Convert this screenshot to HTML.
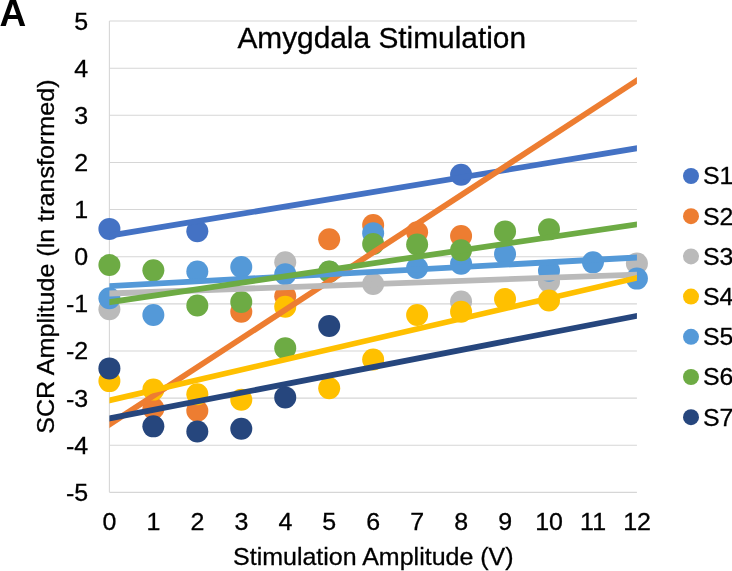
<!DOCTYPE html>
<html lang="en">
<head>
<meta charset="utf-8">
<title>Amygdala Stimulation</title>
<style>
html,body{margin:0;padding:0;background:#fff;}
body{width:732px;height:571px;overflow:hidden;}
svg{display:block;will-change:transform;}
svg text{font-family:"Liberation Sans",Arial,Helvetica,sans-serif;fill:#000;stroke:#000;stroke-width:0.3px;}
svg text.pl{stroke:none;}
</style>
</head>
<body>
<svg width="732" height="571" viewBox="0 0 732 571">
<rect width="732" height="571" fill="#ffffff"/>
<g stroke="#d6d6d6" stroke-width="1.1" fill="none">
<line x1="109.4" y1="492.35" x2="636.92" y2="492.35"/>
<line x1="109.4" y1="445.22" x2="636.92" y2="445.22"/>
<line x1="109.4" y1="398.09" x2="636.92" y2="398.09"/>
<line x1="109.4" y1="350.96" x2="636.92" y2="350.96"/>
<line x1="109.4" y1="303.83" x2="636.92" y2="303.83"/>
<line x1="109.4" y1="256.7" x2="636.92" y2="256.7"/>
<line x1="109.4" y1="209.57" x2="636.92" y2="209.57"/>
<line x1="109.4" y1="162.44" x2="636.92" y2="162.44"/>
<line x1="109.4" y1="115.31" x2="636.92" y2="115.31"/>
<line x1="109.4" y1="68.18" x2="636.92" y2="68.18"/>
<line x1="109.4" y1="21.05" x2="636.92" y2="21.05"/>
<line x1="109.4" y1="21.05" x2="109.4" y2="492.35"/>
</g>
<text x="-0.4" y="25.9" font-size="37" font-weight="bold" class="pl">A</text>
<text x="381.7" y="48.1" font-size="29.85" text-anchor="middle">Amygdala Stimulation</text>
<g font-size="24.5" text-anchor="end">
<text transform="translate(88.1 29.55) scale(1.02 1)">5</text>
<text transform="translate(88.1 76.68) scale(1.02 1)">4</text>
<text transform="translate(88.1 123.81) scale(1.02 1)">3</text>
<text transform="translate(88.1 170.94) scale(1.02 1)">2</text>
<text transform="translate(88.1 218.07) scale(1.02 1)">1</text>
<text transform="translate(88.1 265.2) scale(1.02 1)">0</text>
<text transform="translate(88.1 312.33) scale(1.02 1)">-1</text>
<text transform="translate(88.1 359.46) scale(1.02 1)">-2</text>
<text transform="translate(88.1 406.59) scale(1.02 1)">-3</text>
<text transform="translate(88.1 453.72) scale(1.02 1)">-4</text>
<text transform="translate(88.1 500.85) scale(1.02 1)">-5</text>
</g>
<g font-size="24.5" text-anchor="middle">
<text transform="translate(109.5 530.1) scale(1.02 1)">0</text>
<text transform="translate(153.46 530.1) scale(1.02 1)">1</text>
<text transform="translate(197.42 530.1) scale(1.02 1)">2</text>
<text transform="translate(241.38 530.1) scale(1.02 1)">3</text>
<text transform="translate(285.34 530.1) scale(1.02 1)">4</text>
<text transform="translate(329.3 530.1) scale(1.02 1)">5</text>
<text transform="translate(373.26 530.1) scale(1.02 1)">6</text>
<text transform="translate(417.22 530.1) scale(1.02 1)">7</text>
<text transform="translate(461.18 530.1) scale(1.02 1)">8</text>
<text transform="translate(505.14 530.1) scale(1.02 1)">9</text>
<text transform="translate(549.1 530.1) scale(1.02 1)">10</text>
<text transform="translate(593.06 530.1) scale(1.02 1)">11</text>
<text transform="translate(637.02 530.1) scale(1.02 1)">12</text>
</g>
<text transform="translate(373.3 565.1) scale(1.033 1)" font-size="24.2" text-anchor="middle">Stimulation Amplitude (V)</text>
<text transform="translate(53.8 256.65) rotate(-90) scale(1.0463 1)" font-size="24" text-anchor="middle">SCR Amplitude (ln transformed)</text>
<g fill="#4472C4">
<circle cx="109.4" cy="228.89" r="11.0"/>
<circle cx="197.32" cy="231.25" r="11.0"/>
<circle cx="461.08" cy="174.69" r="11.0"/>
</g>
<g fill="#ED7D31">
<circle cx="153.36" cy="408.46" r="11.0"/>
<circle cx="197.32" cy="410.82" r="11.0"/>
<circle cx="241.28" cy="311.84" r="11.0"/>
<circle cx="285.24" cy="296.29" r="11.0"/>
<circle cx="329.2" cy="239.26" r="11.0"/>
<circle cx="373.16" cy="225.12" r="11.0"/>
<circle cx="417.12" cy="232.19" r="11.0"/>
<circle cx="461.08" cy="235.96" r="11.0"/>
</g>
<g fill="#BABABA">
<circle cx="109.4" cy="309.25" r="11.0"/>
<circle cx="285.24" cy="262.36" r="11.0"/>
<circle cx="373.16" cy="284.04" r="11.0"/>
<circle cx="461.08" cy="301.47" r="11.0"/>
<circle cx="549.0" cy="281.68" r="11.0"/>
<circle cx="636.92" cy="263.53" r="11.0"/>
</g>
<g fill="#FFC000">
<circle cx="109.4" cy="381.12" r="11.0"/>
<circle cx="153.36" cy="389.61" r="11.0"/>
<circle cx="197.32" cy="394.32" r="11.0"/>
<circle cx="241.28" cy="399.74" r="11.0"/>
<circle cx="285.24" cy="306.66" r="11.0"/>
<circle cx="329.2" cy="388.19" r="11.0"/>
<circle cx="373.16" cy="359.44" r="11.0"/>
<circle cx="417.12" cy="314.91" r="11.0"/>
<circle cx="461.08" cy="311.84" r="11.0"/>
<circle cx="505.04" cy="299.12" r="11.0"/>
<circle cx="549.0" cy="300.53" r="11.0"/>
</g>
<g fill="#5499D8">
<circle cx="109.4" cy="298.17" r="11.0"/>
<circle cx="153.36" cy="314.91" r="11.0"/>
<circle cx="197.32" cy="271.59" r="11.0"/>
<circle cx="241.28" cy="266.97" r="11.0"/>
<circle cx="285.24" cy="274.14" r="11.0"/>
<circle cx="329.2" cy="271.78" r="11.0"/>
<circle cx="373.16" cy="233.13" r="11.0"/>
<circle cx="417.12" cy="268.01" r="11.0"/>
<circle cx="461.08" cy="263.77" r="11.0"/>
<circle cx="505.04" cy="254.01" r="11.0"/>
<circle cx="549.0" cy="270.84" r="11.0"/>
<circle cx="592.96" cy="262.36" r="11.0"/>
<circle cx="636.92" cy="278.62" r="11.0"/>
</g>
<g fill="#6DAB44">
<circle cx="109.4" cy="264.99" r="11.0"/>
<circle cx="153.36" cy="270.37" r="11.0"/>
<circle cx="197.32" cy="305.57" r="11.0"/>
<circle cx="241.28" cy="301.94" r="11.0"/>
<circle cx="285.24" cy="348.13" r="11.0"/>
<circle cx="329.2" cy="271.55" r="11.0"/>
<circle cx="373.16" cy="243.97" r="11.0"/>
<circle cx="417.12" cy="244.45" r="11.0"/>
<circle cx="461.08" cy="250.29" r="11.0"/>
<circle cx="505.04" cy="231.39" r="11.0"/>
<circle cx="549.0" cy="229.36" r="11.0"/>
</g>
<g fill="#26467D">
<circle cx="109.4" cy="368.4" r="11.0"/>
<circle cx="153.36" cy="426.37" r="11.0"/>
<circle cx="197.32" cy="431.55" r="11.0"/>
<circle cx="241.28" cy="428.72" r="11.0"/>
<circle cx="285.24" cy="397.38" r="11.0"/>
<circle cx="329.2" cy="325.98" r="11.0"/>
</g>
<defs><clipPath id="plotclip"><rect x="109.4" y="0" width="527.52" height="571"/></clipPath></defs>
<g stroke-width="5.8" fill="none" clip-path="url(#plotclip)">
<line x1="100.61" y1="237.18" x2="645.71" y2="146.84" stroke="#4472C4"/>
<line x1="100.61" y1="430.22" x2="645.71" y2="74.7" stroke="#ED7D31"/>
<line x1="100.61" y1="293.78" x2="645.71" y2="274.3" stroke="#BABABA"/>
<line x1="100.61" y1="402.49" x2="645.71" y2="275.87" stroke="#FFC000"/>
<line x1="100.61" y1="286.63" x2="645.71" y2="257.02" stroke="#5499D8"/>
<line x1="100.61" y1="303.48" x2="645.71" y2="223.12" stroke="#6DAB44"/>
<line x1="100.61" y1="420.06" x2="645.71" y2="314.14" stroke="#26467D"/>
</g>
<circle cx="691" cy="176.0" r="8" fill="#4472C4"/>
<text transform="translate(702.9 184.4) scale(1.03 1)" font-size="24.2">S1</text>
<circle cx="691" cy="216.2" r="8" fill="#ED7D31"/>
<text transform="translate(702.9 224.6) scale(1.03 1)" font-size="24.2">S2</text>
<circle cx="691" cy="256.4" r="8" fill="#BABABA"/>
<text transform="translate(702.9 264.8) scale(1.03 1)" font-size="24.2">S3</text>
<circle cx="691" cy="296.6" r="8" fill="#FFC000"/>
<text transform="translate(702.9 305.0) scale(1.03 1)" font-size="24.2">S4</text>
<circle cx="691" cy="336.8" r="8" fill="#5499D8"/>
<text transform="translate(702.9 345.2) scale(1.03 1)" font-size="24.2">S5</text>
<circle cx="691" cy="377.0" r="8" fill="#6DAB44"/>
<text transform="translate(702.9 385.4) scale(1.03 1)" font-size="24.2">S6</text>
<circle cx="691" cy="417.2" r="8" fill="#26467D"/>
<text transform="translate(702.9 425.6) scale(1.03 1)" font-size="24.2">S7</text>
</svg>
</body>
</html>
